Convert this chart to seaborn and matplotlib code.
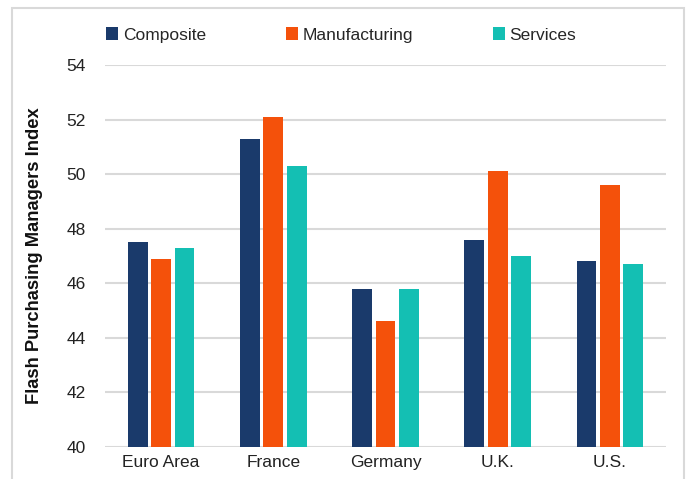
import pandas as pd
import matplotlib
matplotlib.use('Agg')
import matplotlib.pyplot as plt
import matplotlib.patches as mpatches
import seaborn as sns

# dados
regioes = ['Euro Area', 'France', 'Germany', 'U.K.', 'U.S.']
composite = [47.5, 51.3, 45.8, 47.6, 46.8]
manufacturing = [46.9, 52.1, 44.6, 50.1, 49.6]
services = [47.3, 50.3, 45.8, 47.0, 46.7]
series = ['Composite', 'Manufacturing', 'Services']
cores = ['#1A3A6B', '#F4510B', '#14BFB3']

df = pd.DataFrame({
    'regiao': regioes * 3,
    'serie': [s for s in series for _ in regioes],
    'valor': composite + manufacturing + services,
})

sns.set_style('white')
plt.rcParams['font.family'] = ['Liberation Sans', 'DejaVu Sans']

fig = plt.figure(figsize=(6.86, 4.79), dpi=100)
ax = fig.add_axes([105/686, 1 - 447/479, (666 - 105)/686, (447 - 65)/479])

sns.barplot(data=df, x='regiao', y='valor', hue='serie', palette=cores,
            saturation=1, width=0.625, gap=0.15, linewidth=0, ax=ax, legend=True)

ax.set_ylim(40, 54)
ax.set_yticks(range(40, 55, 2))
ax.set_xlabel('')
ax.set_ylabel('Flash Purchasing Managers Index', fontsize=13.2, fontweight='bold',
              color='#111111', labelpad=17)
ax.tick_params(axis='both', length=0, labelsize=12.5, colors='#222222')
ax.tick_params(axis='x', pad=6)
ax.tick_params(axis='y', pad=14)
ax.grid(axis='y', color='#D9D9D9', linewidth=1.5)
ax.set_axisbelow(True)
for s in ax.spines.values():
    s.set_visible(False)

h, l = ax.get_legend_handles_labels()
ax.get_legend().remove()
fig.legend(h, l, loc='center left', bbox_to_anchor=(0.155, 0.927), ncol=3,
           frameon=False, fontsize=12.5, handlelength=0.7, handleheight=0.7,
           handletextpad=0.25, columnspacing=4.6, borderaxespad=0, borderpad=0)

# moldura cinza
fig.patches.append(mpatches.Rectangle((12/686, -0.1), (684 - 12)/686, 1.1 - 8/479,
                                      transform=fig.transFigure, fill=False,
                                      edgecolor='#D9D9D9', linewidth=1.5))

fig.savefig('out.png', dpi=100)
